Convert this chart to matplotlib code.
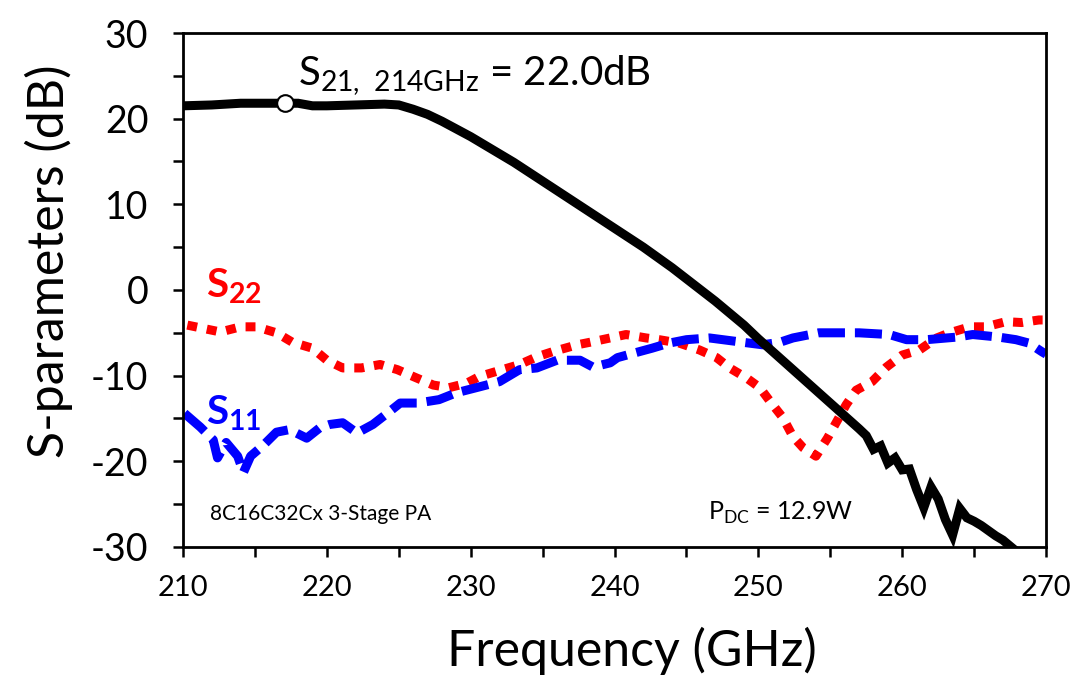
import matplotlib
matplotlib.use("Agg")
import matplotlib.pyplot as plt
from matplotlib.ticker import MultipleLocator

plt.rcParams['font.family'] = ['Lato', 'DejaVu Sans']
plt.rcParams['mathtext.fontset'] = 'custom'
plt.rcParams['mathtext.rm'] = 'Lato'
plt.rcParams['mathtext.bf'] = 'Lato:bold'
plt.rcParams['axes.unicode_minus'] = False

# S21 (black)
s21_freq = [210, 212, 214, 216, 218, 219, 220, 222, 224, 225, 226, 227, 228, 229,
            230, 231, 232, 233, 234, 235, 236, 237, 238, 239, 240, 241, 242, 243,
            244, 245, 246, 247, 248, 249, 250, 251, 252, 253, 254, 255, 256, 257,
            257.5, 258, 258.5, 259, 259.5, 260, 260.5, 261, 261.5, 262, 262.5,
            263, 263.5, 264, 264.5, 265, 265.5, 266, 266.5, 267, 267.5, 268]
s21_db = [21.5, 21.6, 21.8, 21.8, 21.8, 21.5, 21.5, 21.6, 21.7, 21.6, 21.1, 20.5,
          19.7, 18.8, 17.9, 16.9, 15.9, 14.9, 13.8, 12.7, 11.6, 10.5, 9.4, 8.3,
          7.2, 6.1, 5.0, 3.8, 2.6, 1.3, 0.0, -1.3, -2.7, -4.1, -5.7, -7.2, -8.7,
          -10.2, -11.7, -13.2, -14.7, -16.2, -17.0, -18.6, -18.2, -20.2, -19.6,
          -21.0, -20.9, -23.3, -25.4, -23.0, -24.4, -26.8, -28.6, -25.5, -26.6,
          -27.0, -27.5, -28.1, -28.7, -29.2, -29.9, -30.6]

# S22 (red)
s22_freq = [210.3, 212.6, 214.0, 215.1, 216.5, 217.6, 219.0, 220.0, 221.1, 222.4,
            223.7, 224.9, 226.0, 227.4, 228.5, 229.7, 230.6, 232.2, 233.4, 234.6,
            235.7, 237.4, 238.3, 239.7, 240.8, 242.2, 243.1, 244.5, 245.9, 247.1,
            248.0, 249.2, 250.1, 250.9, 251.7, 252.4, 253.1, 254.0, 254.8, 255.5,
            256.1, 256.8, 257.9, 258.9, 260.0, 261.2, 262.4, 263.3, 264.7, 265.8,
            267.2, 268.3, 269.5, 270.0]
s22_db = [-4.1, -4.9, -4.3, -4.3, -5.0, -6.1, -6.8, -8.2, -9.1, -9.1,
          -8.7, -9.3, -10.1, -11.1, -11.4, -10.9, -10.1, -9.3, -8.7, -7.8,
          -7.2, -6.4, -6.1, -5.6, -5.2, -5.6, -5.8, -6.2, -7.0, -7.9,
          -9.1, -10.3, -11.4, -13.2, -14.9, -17.1, -18.4, -19.4, -17.3, -15.2,
          -13.4, -11.7, -10.7, -9.0, -7.6, -7.0, -5.6, -5.0, -4.3, -4.3,
          -3.7, -3.8, -3.5, -3.5]

# S11 (blue)
s11_freq = [210.1, 211.2, 212.1, 212.4, 213.0, 213.8, 214.2, 214.7, 215.6, 216.5,
            217.4, 218.6, 219.5, 220.2, 221.1, 222.1, 223.2, 224.2, 225.1, 226.3,
            227.8, 229.0, 230.4, 232.0, 233.4, 234.6, 236.0, 237.6, 238.5, 239.7,
            240.2, 241.5, 242.6, 243.8, 245.0, 246.6, 248.9, 250.3, 251.5, 252.4,
            254.2, 257.0, 259.1, 260.3, 261.7, 263.8, 264.9, 266.7, 267.9, 268.8,
            269.7, 270.0]
s11_db = [-14.4, -16.0, -17.5, -19.6, -17.8, -19.4, -21.3, -19.4, -18.1, -16.6,
          -16.3, -17.3, -16.1, -15.7, -15.5, -16.7, -15.7, -14.4, -13.2, -13.2,
          -12.8, -12.0, -11.4, -10.7, -9.3, -9.1, -8.2, -8.2, -9.0, -8.5,
          -7.9, -7.3, -6.8, -6.2, -5.8, -5.6, -6.1, -6.4, -6.1, -5.6,
          -5.0, -5.0, -5.2, -5.8, -5.8, -5.5, -5.2, -5.5, -5.8, -6.2,
          -7.2, -7.5]

marker_freq = 217.1
marker_db = 21.8

fig = plt.figure(figsize=(10.74, 6.82), dpi=100)
ax = fig.add_axes([0.1704, 0.198, 0.8036, 0.7536])

ax.plot(s22_freq, s22_db, color='#ff0000', lw=6.5, ls=(0, (1.1, 1.1)),
        dash_capstyle='butt', zorder=2)
ax.plot(s11_freq, s11_db, color='#0000ff', lw=6.5, ls=(0, (3.0, 1.1)),
        dash_capstyle='butt', zorder=2)
ax.plot(s21_freq, s21_db, color='black', lw=6.5, solid_joinstyle='miter', zorder=3)
ax.plot([marker_freq], [marker_db], 'o', ms=12, mfc='white', mec='black', mew=1.5,
        zorder=4)

ax.set_xlim(210, 270)
ax.set_ylim(-30, 30)
ax.xaxis.set_major_locator(MultipleLocator(10))
ax.xaxis.set_minor_locator(MultipleLocator(5))
ax.yaxis.set_major_locator(MultipleLocator(10))
ax.yaxis.set_minor_locator(MultipleLocator(5))
ax.tick_params(which='both', direction='out', length=7, width=1.8, color='black')
ax.tick_params(axis='x', labelsize=21, pad=13)
ax.tick_params(axis='y', labelsize=27, pad=18)
for sp in ax.spines.values():
    sp.set_linewidth(2)

ax.set_xlabel('Frequency (GHz)', fontsize=36)
ax.set_ylabel('S-parameters (dB)', fontsize=36)
ax.xaxis.set_label_coords(0.52, -0.155)
ax.yaxis.set_label_coords(-0.128, 0.555)

ax.text(218.0, 23.9, r'S$_{\mathregular{21,\ 214GHz}}$ = 22.0dB', fontsize=29,
        va='baseline')
ax.text(211.6, -0.9, r'$\mathbf{S_{22}}$', fontsize=29, color='#ff0000',
        va='baseline')
ax.text(211.6, -15.7, r'$\mathbf{S_{11}}$', fontsize=29, color='#0000ff',
        va='baseline')
ax.text(211.9, -26.8, '8C16C32Cx 3-Stage PA', fontsize=15, va='baseline')
ax.text(246.5, -26.8, r'P$_{\mathregular{DC}}$ = 12.9W', fontsize=18, va='baseline')

fig.savefig('out.png', dpi=100)
